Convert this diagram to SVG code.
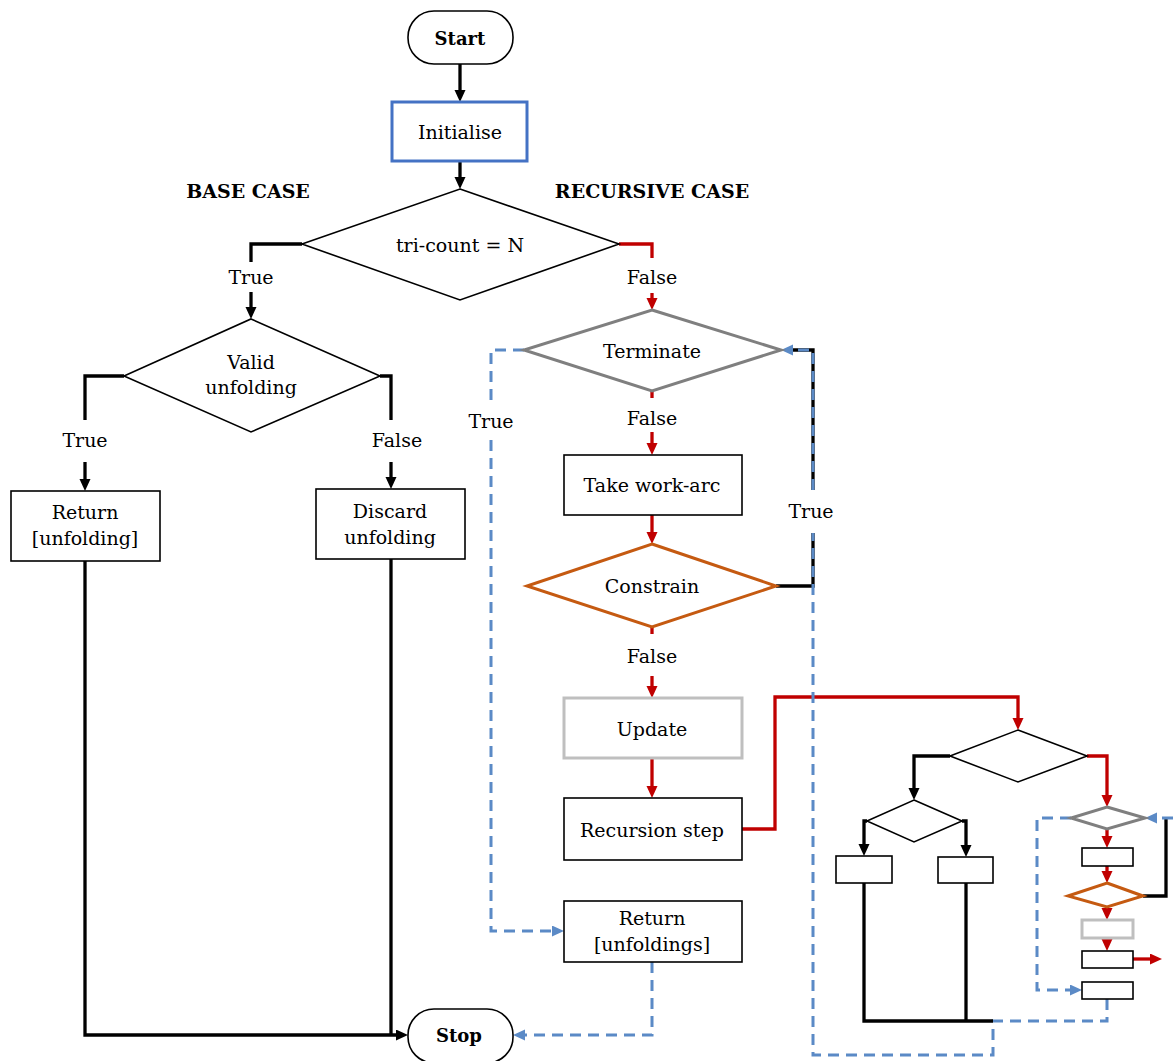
<svg xmlns="http://www.w3.org/2000/svg" width="1173" height="1061" viewBox="0 0 1173 1061">
<style>
text{font-family:"DejaVu Serif","Liberation Serif",serif;font-size:19px;fill:#000;text-anchor:middle}
.b{font-weight:bold;font-size:18px}
.n{fill:#fff;stroke:#000;stroke-width:1.6}
.blue{stroke:#4472C4;stroke-width:3}
.gray{stroke:#7F7F7F;stroke-width:3}
.orange{stroke:#C55A11;stroke-width:3}
.lgray{stroke:#BFBFBF;stroke-width:3}
.c{fill:none;stroke-width:3.3;stroke-linejoin:miter}
.k{stroke:#000}
.r{stroke:#C00000}
.d{stroke:#5B8AC6;stroke-width:3;stroke-dasharray:11 7}
</style>
<defs>
<marker id="ak" markerUnits="userSpaceOnUse" markerWidth="13" markerHeight="12" refX="7" refY="5.5" orient="auto"><path d="M0,0 L12,5.5 L0,11 z" fill="#000"/></marker>
<marker id="ar" markerUnits="userSpaceOnUse" markerWidth="13" markerHeight="12" refX="7" refY="5.5" orient="auto"><path d="M0,0 L12,5.5 L0,11 z" fill="#C00000"/></marker>
<marker id="ab" markerUnits="userSpaceOnUse" markerWidth="13" markerHeight="12" refX="7" refY="5.5" orient="auto"><path d="M0,0 L12,5.5 L0,11 z" fill="#5B8AC6"/></marker>
</defs>

<g id="connectors">
<path class="c k" d="M460,64 V97" marker-end="url(#ak)"/>
<path class="c k" d="M460,161 V184" marker-end="url(#ak)"/>
<path class="c k" d="M302,244 H251 V262"/>
<path class="c k" d="M251,292 V314" marker-end="url(#ak)"/>
<path class="c k" d="M124,376 H85 V420"/>
<path class="c k" d="M85,462 V486" marker-end="url(#ak)"/>
<path class="c k" d="M380,376 H391 V420"/>
<path class="c k" d="M391,462 V484" marker-end="url(#ak)"/>
<path class="c k" d="M85,561 V1035 H403" marker-end="url(#ak)"/>
<path class="c k" d="M391,559 V1035"/>
<path class="c r" d="M619,244 H652 V258"/>
<path class="c r" d="M652,293 V305" marker-end="url(#ar)"/>
<path class="c r" d="M652,391 V398"/>
<path class="c r" d="M652,432 V450" marker-end="url(#ar)"/>
<path class="c r" d="M652,515 V539" marker-end="url(#ar)"/>
<path class="c r" d="M652,627 V634"/>
<path class="c r" d="M652,676 V693" marker-end="url(#ar)"/>
<path class="c r" d="M652,758 V793" marker-end="url(#ar)"/>
<path class="c r" d="M742,829 H775 V697 H1018 V725" marker-end="url(#ar)"/>
<path class="c k" d="M776,586 H813 V533"/>
<path class="c k" d="M813,490 V350 H786"/>
<path class="c d" d="M524,350 H491 V400"/>
<path class="c d" d="M491,440 V931 H559" marker-end="url(#ab)"/>
<path class="c d" d="M652,962 V1035 H518" marker-end="url(#ab)"/>
<path class="c d" d="M1107,999 V1021 H993 V1055 H813 V533"/>
<path class="c d" d="M813,490 V350 H786" marker-end="url(#ab)"/>
<path class="c k" d="M950,756 H914 V795" marker-end="url(#ak)"/>
<path class="c r" d="M1087,756 H1107 V802" marker-end="url(#ar)"/>
<path class="c k" d="M867,821 H864 V851" marker-end="url(#ak)"/>
<path class="c k" d="M962,821 H966 V852" marker-end="url(#ak)"/>
<path class="c k" d="M864,883 V1021 H993"/>
<path class="c k" d="M966,883 V1021"/>
<path class="c r" d="M1107,829 V843" marker-end="url(#ar)"/>
<path class="c r" d="M1107,866 V878" marker-end="url(#ar)"/>
<path class="c r" d="M1107,907 V915" marker-end="url(#ar)"/>
<path class="c r" d="M1107,938 V946" marker-end="url(#ar)"/>
<path class="c r" d="M1133,959 H1157" marker-end="url(#ar)"/>
<path class="c k" d="M1143,896 H1166 V818"/>
<path class="c d" d="M1173,818 H1150" marker-end="url(#ab)"/>
<path class="c d" d="M1071,818 H1037 V990 H1077" marker-end="url(#ab)"/>
</g>

<g id="start"><rect class="n" x="408" y="11" width="105" height="53" rx="26"/><text class="b" x="460" y="45">Start</text></g>
<g id="initialise"><rect class="n blue" x="392" y="102" width="135" height="59"/><text x="460" y="139">Initialise</text></g>
<g id="label-base"><text class="b" x="248" y="198" style="font-size:19px">BASE CASE</text></g>
<g id="label-recursive"><text class="b" x="652" y="198" style="font-size:19px">RECURSIVE CASE</text></g>
<g id="tricount"><polygon class="n" points="460,189 619,244 460,300 302,244"/><text x="460" y="252">tri-count = N</text></g>
<g id="lbl-true1"><text x="251" y="284">True</text></g>
<g id="lbl-false1"><text x="652" y="284">False</text></g>
<g id="valid"><polygon class="n" points="251,319 380,376 251,432 124,376"/><text x="251" y="369">Valid</text><text x="251" y="394">unfolding</text></g>
<g id="lbl-true2"><text x="85" y="447">True</text></g>
<g id="lbl-false2"><text x="397" y="447">False</text></g>
<g id="return1"><rect class="n" x="11" y="491" width="149" height="70"/><text x="85" y="519">Return</text><text x="85" y="545">[unfolding]</text></g>
<g id="discard"><rect class="n" x="316" y="489" width="149" height="70"/><text x="390" y="518">Discard</text><text x="390" y="544">unfolding</text></g>
<g id="terminate"><polygon class="n gray" points="652,310 781,350 652,391 524,350"/><text x="652" y="358">Terminate</text></g>
<g id="lbl-false3"><text x="652" y="425">False</text></g>
<g id="lbl-true3"><text x="491" y="428">True</text></g>
<g id="take"><rect class="n" x="564" y="455" width="178" height="60"/><text x="652" y="492">Take work-arc</text></g>
<g id="lbl-true4"><text x="811" y="518">True</text></g>
<g id="constrain"><polygon class="n orange" points="652,544 776,586 652,627 527,586"/><text x="652" y="593">Constrain</text></g>
<g id="lbl-false4"><text x="652" y="663">False</text></g>
<g id="update"><rect class="n lgray" x="564" y="698" width="178" height="60"/><text x="652" y="736">Update</text></g>
<g id="recursion"><rect class="n" x="564" y="798" width="178" height="62"/><text x="652" y="837">Recursion step</text></g>
<g id="return2"><rect class="n" x="564" y="901" width="178" height="61"/><text x="652" y="925">Return</text><text x="652" y="951">[unfoldings]</text></g>
<g id="stop"><rect class="n" x="408" y="1009" width="105" height="54" rx="26"/><text class="b" x="459" y="1042">Stop</text></g>

<g id="mini-tricount"><polygon class="n" points="1018,730 1087,756 1018,782 950,756"/></g>
<g id="mini-valid"><polygon class="n" points="914,800 962,821 914,842 867,821"/></g>
<g id="mini-return1"><rect class="n" x="836" y="856" width="56" height="27"/></g>
<g id="mini-discard"><rect class="n" x="938" y="857" width="55" height="26"/></g>
<g id="mini-terminate"><polygon class="n gray" points="1107,807 1145,818 1107,829 1071,818"/></g>
<g id="mini-take"><rect class="n" x="1082" y="848" width="51" height="18"/></g>
<g id="mini-constrain"><polygon class="n orange" points="1107,883 1143,896 1107,907 1068,896"/></g>
<g id="mini-update"><rect class="n lgray" x="1082" y="920" width="51" height="18"/></g>
<g id="mini-recursion"><rect class="n" x="1082" y="951" width="51" height="17"/></g>
<g id="mini-return2"><rect class="n" x="1082" y="982" width="51" height="17"/></g>
</svg>
